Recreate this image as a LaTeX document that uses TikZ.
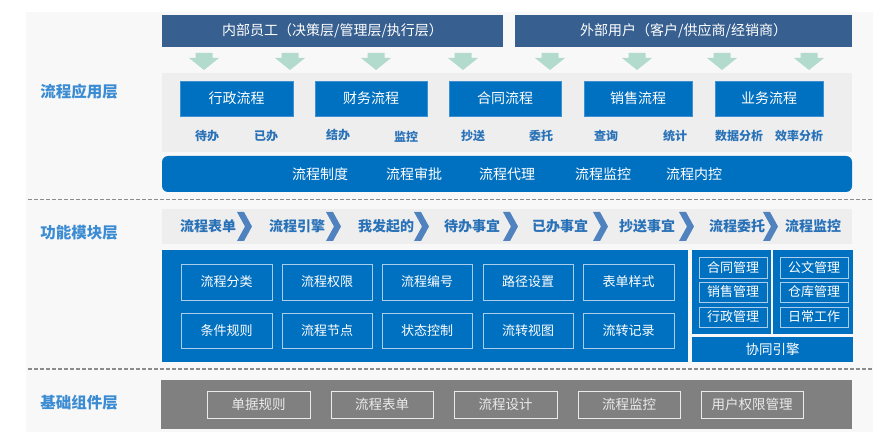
\documentclass[tikz,border=0pt]{standalone}
\usepackage{fontspec}
\setmainfont{Noto Sans CJK SC}
\definecolor{panelbg}{HTML}{F8F8F8}
\definecolor{topbar}{HTML}{375F8F}
\definecolor{arrowgreen}{HTML}{B2DBCD}
\definecolor{greyband}{HTML}{EEEEEE}
\definecolor{mainblue}{HTML}{0070C0}
\definecolor{boxline}{HTML}{3F8FD2}
\definecolor{labelblue}{HTML}{2A72B8}
\definecolor{layerblue}{HTML}{3B8CD2}
\definecolor{chevblue}{HTML}{4F82BE}
\definecolor{basegrey}{HTML}{808080}
\definecolor{innerline}{HTML}{A9CDEB}
\newcommand\myrect[7]{\node[#1, minimum width={#4-#2}, minimum height={#5-#3}] (#6) at ({(#2+#4)/2},{(#3+#5)/2}) {#7};}
\newcommand\fs[1]{\fontsize{#1}{#1}\selectfont}
\tikzset{
  base/.style={inner sep=0pt, outer sep=0pt, text=white},
  topbox/.style={base, fill=topbar, font=\fs{14}},
  procbox/.style={base, fill=mainblue, draw=boxline, line width=0.8pt, font=\fs{14}},
  sublabel/.style={text=labelblue, font=\fs{12}\bfseries},
  bartext/.style={text=white, font=\fs{14}},
  layerlabel/.style={text=layerblue, font=\fs{15.5}\bfseries},
  chevtext/.style={text=labelblue, font=\fs{14}\bfseries},
  innerbox/.style={base, draw=innerline, line width=0.9pt, font=\fs{13}},
  smallbox/.style={base, draw=innerline, line width=0.9pt, font=\fs{13}},
  bluepanel/.style={base, fill=mainblue},
  graybox/.style={base, draw=white!92!black, line width=0.9pt, text=white!92!black, font=\fs{13.5}},
  sep/.style={draw=black!45, line width=1.2pt, dash pattern=on 4pt off 2pt},
}
\begin{document}
\begin{tikzpicture}[x=1pt,y=-1pt]
\useasboundingbox (0,0) rectangle (882,443);
% background panel
\fill[panelbg] (26,12) rectangle (873,432);

% ===== 流程应用层 =====
\myrect{topbox}{162}{15}{503}{47}{u1}{内部员工（决策层/管理层/执行层）}
\myrect{topbox}{515}{15}{852}{47}{u2}{外部用户（客户/供应商/经销商）}
\foreach \x in {204,290,376,463,550,637,722,809}{
  \fill[arrowgreen] (\x-8.5,53) -- (\x+8.5,53) -- (\x+8.5,58) -- (\x+15,58) -- (\x,70) -- (\x-15,58) -- (\x-8.5,58) -- cycle;
}
\fill[greyband] (162,73) rectangle (852,152);
\myrect{procbox}{180}{81}{293}{116}{p1}{行政流程}
\myrect{procbox}{315}{81}{427}{116}{p2}{财务流程}
\myrect{procbox}{449}{81}{561}{116}{p3}{合同流程}
\myrect{procbox}{584}{81}{692}{116}{p4}{销售流程}
\myrect{procbox}{715}{81}{823}{116}{p5}{业务流程}
\node[sublabel] (s1) at (207,136) {待办};
\node[sublabel] (s2) at (266,136) {已办};
\node[sublabel] (s3) at (338,134.5) {结办};
\node[sublabel] (s4) at (406,136.5) {监控};
\node[sublabel] (s5) at (473,136) {抄送};
\node[sublabel] (s6) at (541,136) {委托};
\node[sublabel] (s7) at (606,136) {查询};
\node[sublabel] (s8) at (675,136) {统计};
\node[sublabel] (s9) at (739,136) {数据分析};
\node[sublabel] (s10) at (799,136) {效率分析};
\fill[mainblue, rounded corners=6pt] (162,156) rectangle (852,192);
\node[bartext] (b1) at (320,174) {流程制度};
\node[bartext] (b2) at (414,174) {流程审批};
\node[bartext] (b3) at (507,174) {流程代理};
\node[bartext] (b4) at (603,174) {流程监控};
\node[bartext] (b5) at (694,174) {流程内控};
\node[layerlabel] (L1) at (79,92) {流程应用层};

\draw[sep] (28,199.5) -- (873,199.5);

% ===== 功能模块层 =====
\node[layerlabel] (L2) at (79,233) {功能模块层};
\fill[greyband] (162,209) rectangle (852,244);
\node[chevtext] (c1) at (208,226) {流程表单};
\node[chevtext] (c2) at (297,226) {流程引擎};
\node[chevtext] (c3) at (386,226) {我发起的};
\node[chevtext] (c4) at (472,226) {待办事宜};
\node[chevtext] (c5) at (560,226) {已办事宜};
\node[chevtext] (c6) at (647,226) {抄送事宜};
\node[chevtext] (c7) at (737,226) {流程委托};
\node[chevtext] (c8) at (813,226) {流程监控};
\foreach \x in {237,326,414,503,593,679,763}{
  \fill[chevblue] (\x,212) -- (\x+7,212) -- (\x+15,226.5) -- (\x+7,241) -- (\x,241) -- (\x+8,226.5) -- cycle;
}
\myrect{bluepanel}{162}{250}{688}{362}{fp}{}
\myrect{innerbox}{181}{264}{272}{300}{f1}{流程分类}
\myrect{innerbox}{282}{264}{372}{300}{f2}{流程权限}
\myrect{innerbox}{382}{264}{472}{300}{f3}{流程编号}
\myrect{innerbox}{483}{264}{573}{300}{f4}{路径设置}
\myrect{innerbox}{583}{264}{674}{300}{f5}{表单样式}
\myrect{innerbox}{181}{313}{272}{348}{f6}{条件规则}
\myrect{innerbox}{282}{313}{372}{348}{f7}{流程节点}
\myrect{innerbox}{382}{313}{472}{348}{f8}{状态控制}
\myrect{innerbox}{483}{313}{573}{348}{f9}{流转视图}
\myrect{innerbox}{583}{313}{674}{348}{f10}{流转记录}
\myrect{bluepanel}{692}{250}{771}{334}{rp1}{}
\myrect{bluepanel}{773}{250}{853}{334}{rp2}{}
\myrect{smallbox}{699}{257}{767}{278}{m1}{合同管理}
\myrect{smallbox}{699}{282}{767}{302}{m2}{销售管理}
\myrect{smallbox}{699}{307}{767}{327}{m3}{行政管理}
\myrect{smallbox}{780}{257}{848}{278}{m4}{公文管理}
\myrect{smallbox}{780}{282}{848}{302}{m5}{仓库管理}
\myrect{smallbox}{780}{307}{848}{327}{m6}{日常工作}
\myrect{bluepanel, font=\fs{13.5}}{692}{337}{853}{362}{xt}{协同引擎}

\draw[sep] (28,369) -- (873,369);

% ===== 基础组件层 =====
\node[layerlabel] (L3) at (79,403) {基础组件层};
\fill[basegrey] (161,380) rectangle (852,429);
\myrect{graybox}{207}{391}{310}{418}{g1}{单据规则}
\myrect{graybox}{331}{391}{433}{418}{g2}{流程表单}
\myrect{graybox}{454}{391}{557}{418}{g3}{流程设计}
\myrect{graybox}{578}{391}{680}{418}{g4}{流程监控}
\myrect{graybox}{701}{391}{803}{418}{g5}{用户权限管理}
\end{tikzpicture}
\end{document}
